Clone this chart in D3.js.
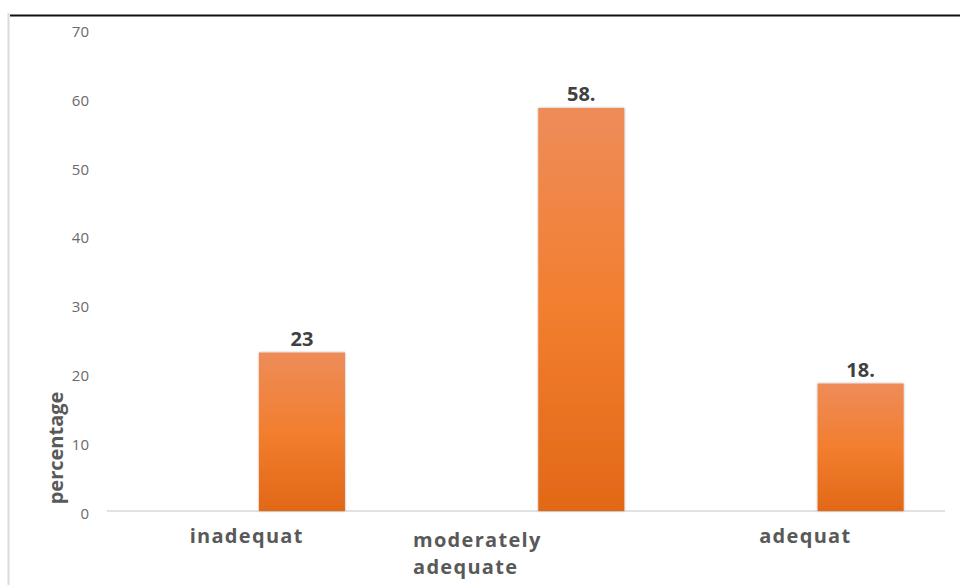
<!DOCTYPE html>
<html>
<head>
<meta charset="utf-8">
<script src="https://cdn.jsdelivr.net/npm/d3@7"></script>
<style>
  html, body { margin: 0; padding: 0; background: #fff; }
  svg { display: block; }
</style>
</head>
<body>
<svg id="chart" width="960" height="585"></svg>
<script>
// Category data
const categories = ["inadequat", "moderately adequate", "adequat"];
// Category labels as they wrap under the axis
const categoryLines = [["inadequat"], ["moderately", "adequate"], ["adequat"]];
// Percentage per category
const values = [23, 58.5, 18.5];
// Text printed above each bar
const valueLabels = ["23", "58.", "18."];
// Clustered layout: an empty first series, the percentages in the second
const seriesNames = ["blank", "percentage"];
const yTicks = [0, 10, 20, 30, 40, 50, 60, 70];

const svg = d3.select("#chart");
const W = 960, H = 585;
const plot = { left: 107, right: 945, top: 28.7, bottom: 511 };

// Frame: dark top rule and a light left edge
svg.append("line").attr("x1", 10).attr("x2", W).attr("y1", 15.5).attr("y2", 15.5)
  .attr("stroke", "#111").attr("stroke-width", 2);
svg.append("line").attr("x1", 8.5).attr("x2", 8.5).attr("y1", 13).attr("y2", H)
  .attr("stroke", "#dcdcdc").attr("stroke-width", 2);

const defs = svg.append("defs");
const grad = defs.append("linearGradient").attr("id", "barFill")
  .attr("x1", 0).attr("y1", 0).attr("x2", 0).attr("y2", 1);
grad.append("stop").attr("offset", "0%").attr("stop-color", "#EE8C59");
grad.append("stop").attr("offset", "50%").attr("stop-color", "#F27E2F");
grad.append("stop").attr("offset", "100%").attr("stop-color", "#E26817");
const shadow = defs.append("filter").attr("id", "barShadow")
  .attr("x", "-10%").attr("y", "-5%").attr("width", "120%").attr("height", "110%");
shadow.append("feDropShadow").attr("dx", 0).attr("dy", 0).attr("stdDeviation", 1.3)
  .attr("flood-color", "#000").attr("flood-opacity", 0.35);

const x = d3.scaleBand().domain(categories).range([plot.left, plot.right]).padding(0);
const xs = d3.scaleBand().domain(seriesNames).range([0, x.bandwidth()])
  .paddingInner(0.222).paddingOuter(0.374);
const y = d3.scaleLinear().domain([0, 70]).range([plot.bottom, plot.top]);

// Y axis: labels only
const yAxis = svg.append("g").attr("transform", `translate(${plot.left - 18},0)`)
  .call(d3.axisLeft(y).tickValues(yTicks).tickSize(0).tickPadding(0).tickFormat(d3.format("d")));
yAxis.select(".domain").remove();
yAxis.selectAll("text")
  .attr("dy", "0.5em")
  .attr("fill", "#6a6a6a")
  .style("font-family", "'Open Sans', sans-serif")
  .style("font-size", "15px");

// Baseline
svg.append("line").attr("x1", plot.left).attr("x2", plot.right)
  .attr("y1", plot.bottom).attr("y2", plot.bottom)
  .attr("stroke", "#d9d9d9").attr("stroke-width", 1.5);

const rows = categories.map((c, i) => ({ c, v: values[i], label: valueLabels[i], lines: categoryLines[i] }));

// Bars
svg.append("g").selectAll("rect").data(rows).join("rect")
  .attr("x", d => x(d.c) + xs("percentage"))
  .attr("y", d => y(d.v))
  .attr("width", xs.bandwidth())
  .attr("height", d => y(0) - y(d.v))
  .attr("fill", "url(#barFill)")
  .attr("filter", "url(#barShadow)");

// Value labels
svg.append("g").selectAll("text").data(rows).join("text")
  .attr("x", d => x(d.c) + xs("percentage") + xs.bandwidth() / 2)
  .attr("y", d => y(d.v) - 7)
  .attr("text-anchor", "middle")
  .attr("fill", "#404040")
  .style("font-family", "'Open Sans', sans-serif")
  .style("font-weight", "700")
  .style("font-size", "20px")
  .text(d => d.label);

// Category labels
const catG = svg.append("g")
  .style("font-family", "'Open Sans', sans-serif")
  .style("font-weight", "700")
  .style("font-size", "20px")
  .style("letter-spacing", "1.3px")
  .attr("fill", "#595959");
rows.forEach(d => {
  const cx = x(d.c) + x.bandwidth() / 2;
  const wrapped = d.lines.length > 1;
  const t = catG.append("text")
    .attr("x", wrapped ? cx - 113 : cx)
    .attr("y", wrapped ? 547 : 543)
    .attr("text-anchor", wrapped ? "start" : "middle");
  d.lines.forEach((ln, j) => {
    t.append("tspan")
      .attr("x", wrapped ? cx - 113 : cx)
      .attr("dy", j === 0 ? 0 : 27)
      .text(ln);
  });
});

// Y axis title
svg.append("text")
  .attr("transform", "translate(63,448) rotate(-90)")
  .attr("text-anchor", "middle")
  .attr("fill", "#595959")
  .style("font-family", "'Open Sans', sans-serif")
  .style("font-weight", "700")
  .style("font-size", "20px")
  .text("percentage");
</script>
</body>
</html>
